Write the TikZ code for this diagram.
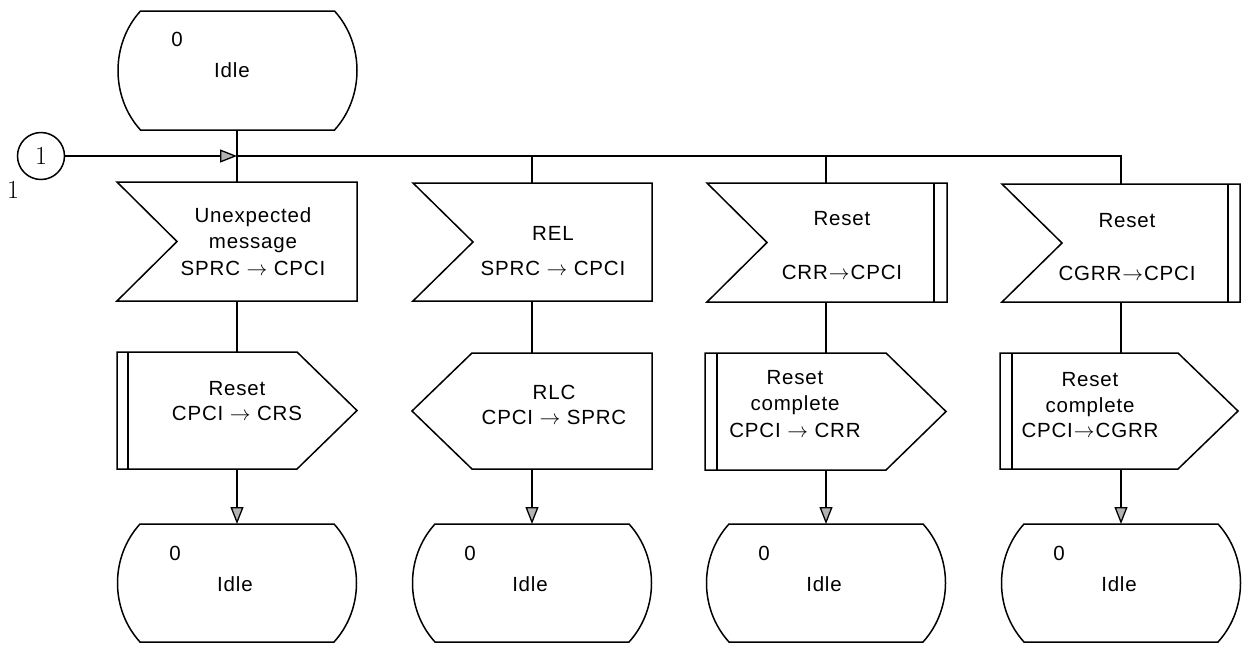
\documentclass[tikz,border=0pt]{standalone}
\usepackage{fontspec}
\newfontfamily\lbl[LetterSpace=4]{Liberation Sans}
\usetikzlibrary{arrows.meta}
\begin{document}
\begin{tikzpicture}[x=1pt,y=-1pt,
  shp/.style={draw,line width=1.5pt,line join=miter},
  ln/.style={line width=1.5pt},
  arr/.style={line width=1.5pt,-{Triangle[length=17pt,width=13pt,fill=gray!60,line width=1.3pt]}},
  txt/.style={font=\lbl\fontsize{20.5}{24}\selectfont,inner sep=0pt,anchor=base},
  ctxt/.style={font=\lbl\fontsize{20.5}{24}\selectfont,inner sep=0pt,anchor=center},
  rtxt/.style={font=\rmfamily\fontsize{26}{28}\selectfont,inner sep=0pt,anchor=center}]
\useasboundingbox (0,0) rectangle (1242,649);

\newcommand\mystate[3]{%
  \draw[shp] ({#1-97},#2) -- ({#1+97},#2)
    .. controls ({#1+127},{#2+33}) and ({#1+127},{#3-33}) .. ({#1+97},#3)
    -- ({#1-97},#3)
    .. controls ({#1-127},{#3-33}) and ({#1-127},{#2+33}) .. ({#1-97},#2) -- cycle;}
\newcommand\insig[4]{%
  \draw[shp] (#1,#3) -- (#2,#3) -- (#2,#4) -- (#1,#4) -- ({#1+60},{(#3+#4)/2}) -- cycle;}
\newcommand\outsigR[5]{% L R top bot inner
  \draw[shp] (#1,#3) -- ({#2-60},#3) -- (#2,{(#3+#4)/2}) -- ({#2-60},#4) -- (#1,#4) -- cycle;
  \draw[ln] (#5,#3) -- (#5,#4);}

% ---------- top state
\mystate{237.5}{11}{130}
\node[ctxt] (s0n) at (177,39) {0};
\node[ctxt] (s0t) at (232,70) {Idle};
\coordinate (s0b) at (237,130);

% ---------- connector
\node[draw,circle,line width=1.5pt,minimum size=47pt,inner sep=0pt,
      font=\rmfamily\fontsize{26}{28}\selectfont] (con) at (41,156) {1};
\node[rtxt] (conl) at (13,190) {1};
\coordinate (j1) at (237,156);
\coordinate (j2) at (532,156);
\coordinate (j3) at (826,156);
\coordinate (j4) at (1121,156);

% ---------- input signals (row 2)
\insig{117}{357}{182}{301}
\insig{413}{652}{183}{301}
\insig{707}{947}{183}{302}
\draw[ln] (934,183) -- (934,302);
\insig{1002}{1240}{184}{302}
\draw[ln] (1228,184) -- (1228,302);
\coordinate (i1t) at (237,182); \coordinate (i1b) at (237,301);
\coordinate (i2t) at (532,183); \coordinate (i2b) at (532,301);
\coordinate (i3t) at (826,183); \coordinate (i3b) at (826,302);
\coordinate (i4t) at (1121,184); \coordinate (i4b) at (1121,302);

\node[txt] (i1a) at (253,222) {Unexpected};
\node[txt] (i1m) at (253,248.5) {message};
\node[txt] (i1c) at (253,275) {SPRC $\rightarrow$ CPCI};
\node[txt] (i2a) at (553,240) {REL};
\node[txt] (i2c) at (553,275) {SPRC $\rightarrow$ CPCI};
\node[txt] (i3a) at (842,225) {Reset};
\node[txt] (i3c) at (842,279) {CRR\kern1pt$\rightarrow$\kern1ptCPCI};
\node[txt] (i4a) at (1127,227) {Reset};
\node[txt] (i4c) at (1127,280) {CGRR\kern1pt$\rightarrow$\kern1ptCPCI};

% ---------- output signals (row 3)
\outsigR{117}{357}{352}{469}{128}
\draw[shp] (472,353) -- (652,353) -- (652,469) -- (472,469) -- (412,411) -- cycle;
\outsigR{705}{946}{353}{470}{717}
\outsigR{1000}{1238}{353}{469}{1012}
\coordinate (o1t) at (237,352); \coordinate (o1b) at (237,469);
\coordinate (o2t) at (532,353); \coordinate (o2b) at (532,469);
\coordinate (o3t) at (826,353); \coordinate (o3b) at (826,470);
\coordinate (o4t) at (1121,353); \coordinate (o4b) at (1121,469);

\node[txt] (o1a) at (237,395) {Reset};
\node[txt] (o1c) at (237,420) {CPCI $\rightarrow$ CRS};
\node[txt] (o2a) at (554,399) {RLC};
\node[txt] (o2c) at (554,424) {CPCI $\rightarrow$ SPRC};
\node[txt] (o3a) at (795,384) {Reset};
\node[txt] (o3m) at (795,410.5) {complete};
\node[txt] (o3c) at (795,437) {CPCI $\rightarrow$ CRR};
\node[txt] (o4a) at (1090,386) {Reset};
\node[txt] (o4m) at (1090,412) {complete};
\node[txt] (o4c) at (1090,437) {CPCI\kern1pt$\rightarrow$\kern1ptCGRR};

% ---------- bottom states
\mystate{237}{524}{642}
\mystate{532}{524}{642}
\mystate{826}{524}{642}
\mystate{1121}{524}{642}
\coordinate (f1) at (237,524);
\coordinate (f2) at (532,524);
\coordinate (f3) at (826,524);
\coordinate (f4) at (1121,524);
\node[ctxt] (f1n) at (175,553) {0};
\node[ctxt] (f1t) at (235,584) {Idle};
\node[ctxt] (f2n) at (470,553) {0};
\node[ctxt] (f2t) at (530,584) {Idle};
\node[ctxt] (f3n) at (764,553) {0};
\node[ctxt] (f3t) at (824,584) {Idle};
\node[ctxt] (f4n) at (1059,553) {0};
\node[ctxt] (f4t) at (1119,584) {Idle};

% ---------- connectors
\draw[ln] (s0b) -- (i1t);
\draw[arr] (con.east) -- (j1);
\draw[ln] (j1) -- (j4) -- (i4t);
\draw[ln] (j2) -- (i2t);
\draw[ln] (j3) -- (i3t);
\draw[ln] (i1b) -- (o1t);
\draw[ln] (i2b) -- (o2t);
\draw[ln] (i3b) -- (o3t);
\draw[ln] (i4b) -- (o4t);
\draw[arr] (o1b) -- (f1);
\draw[arr] (o2b) -- (f2);
\draw[arr] (o3b) -- (f3);
\draw[arr] (o4b) -- (f4);
\end{tikzpicture}
\end{document}
